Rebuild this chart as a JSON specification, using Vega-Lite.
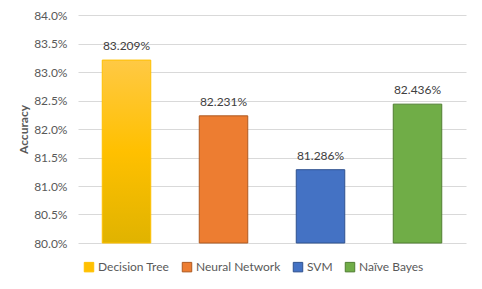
{
  "$schema": "https://vega.github.io/schema/vega-lite/v6.json",
  "width": 388,
  "height": 228,
  "autosize": {"type": "none"},
  "padding": {"left": 78, "top": 15, "right": 16, "bottom": 46},
  "background": "white",
  "config": {
    "font": "Lato",
    "view": {"stroke": null},
    "axis": {"labelFont": "Lato", "titleFont": "Lato"},
    "legend": {"labelFont": "Lato"}
  },
  "data": {
    "values": [
      {"model": "Decision Tree", "accuracy": 0.83209},
      {"model": "Neural Network", "accuracy": 0.82231},
      {"model": "SVM", "accuracy": 0.81286},
      {"model": "Naïve Bayes", "accuracy": 0.82436}
    ]
  },
  "encoding": {
    "x": {
      "field": "model",
      "type": "nominal",
      "sort": ["Decision Tree", "Neural Network", "SVM", "Naïve Bayes"],
      "scale": {"paddingInner": 0.5, "paddingOuter": 0.25},
      "axis": null
    },
    "y": {
      "field": "accuracy",
      "type": "quantitative",
      "scale": {"domain": [0.8, 0.84], "zero": false, "clamp": true},
      "axis": {
        "title": "Accuracy",
        "titleFontWeight": "bold",
        "titleFontSize": 12,
        "titleColor": "#595959",
        "titlePadding": 3,
        "format": ".1%",
        "values": [0.8, 0.805, 0.81, 0.815, 0.82, 0.825, 0.83, 0.835, 0.84],
        "labelFontSize": 12,
        "labelColor": "#595959",
        "labelPadding": 11,
        "ticks": false,
        "domain": false,
        "grid": true,
        "gridColor": "#D9D9D9",
        "gridWidth": 1
      }
    }
  },
  "layer": [
    {
      "mark": {"type": "bar", "strokeWidth": 1},
      "encoding": {
        "fill": {
          "condition": {
            "test": "datum.model === 'Decision Tree'",
            "value": {
              "gradient": "linear",
              "x1": 0, "y1": 0, "x2": 0, "y2": 1,
              "stops": [
                {"offset": 0, "color": "#FFC944"},
                {"offset": 0.5, "color": "#FFC000"},
                {"offset": 1, "color": "#E0B300"}
              ]
            }
          },
          "field": "model",
          "type": "nominal",
          "sort": ["Decision Tree", "Neural Network", "SVM", "Naïve Bayes"],
          "scale": {
            "domain": ["Decision Tree", "Neural Network", "SVM", "Naïve Bayes"],
            "range": ["#FFC000", "#ED7D31", "#4472C4", "#70AD47"]
          },
          "legend": {
            "title": null,
            "orient": "bottom",
            "direction": "horizontal",
            "symbolType": "square",
            "symbolSize": 90,
            "symbolStrokeWidth": 1,
            "labelFontSize": 12,
            "labelColor": "#595959",
            "labelOffset": 3,
            "columnPadding": 10,
            "padding": 5,
            "offset": 13
          }
        },
        "stroke": {
          "field": "model",
          "type": "nominal",
          "sort": ["Decision Tree", "Neural Network", "SVM", "Naïve Bayes"],
          "scale": {
            "domain": ["Decision Tree", "Neural Network", "SVM", "Naïve Bayes"],
            "range": ["#FFC000", "#AE5A21", "#2F528F", "#507E32"]
          }
        }
      }
    },
    {
      "mark": {"type": "text", "baseline": "bottom", "dy": -7, "fontSize": 12, "color": "#404040", "font": "Lato"},
      "encoding": {
        "text": {"field": "accuracy", "type": "quantitative", "format": ".3%"}
      }
    }
  ]
}
